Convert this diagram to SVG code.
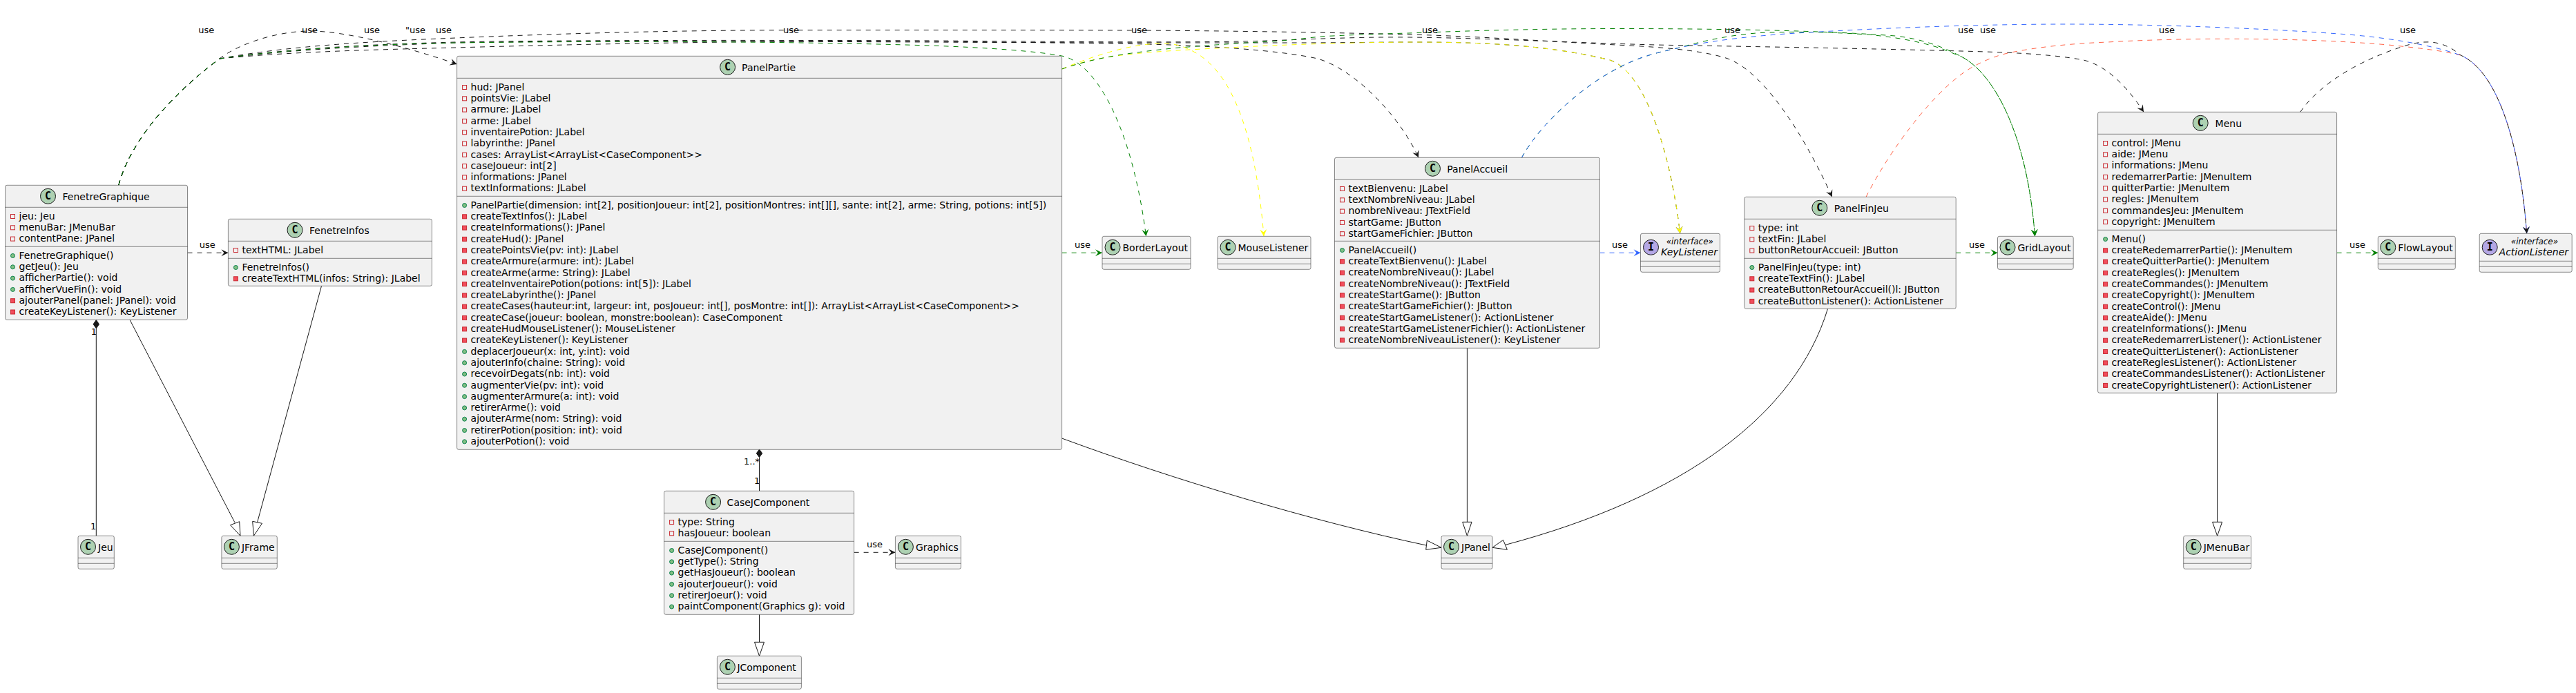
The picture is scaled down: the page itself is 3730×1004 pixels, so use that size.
<svg xmlns="http://www.w3.org/2000/svg" width="3730" height="1004" viewBox="0 0 3730 1004">
<style>
text{font-family:"DejaVu Sans",sans-serif;font-size:14px;fill:#000}
.box{fill:#F1F1F1;stroke:#181818;stroke-width:.5}
.div{fill:none;stroke:#181818;stroke-width:.5}
.cc{fill:#ADD1B2;stroke:#181818;stroke-width:1}
.ci{fill:#B4A7E5;stroke:#181818;stroke-width:1}
.gl{font-family:"DejaVu Sans Mono","DejaVu Sans",monospace;font-weight:bold;font-size:15px;text-anchor:middle}
.lb{font-size:13px}
.st{font-size:12px;font-style:italic;text-anchor:middle}
.it{font-style:italic}
.u{fill:none;stroke-width:1;stroke-dasharray:7,7}
.k{stroke:#181818}.g{stroke:#008000}.y{stroke:#FFFF00}.bl{stroke:#3366FF}.s{stroke:#FF6347}
.sl{fill:none;stroke:#181818;stroke-width:1}
.tri{fill:#fff;stroke:#181818;stroke-width:1}
.dia{fill:#181818;stroke:#181818;stroke-width:1}
</style>
<defs>
<marker id="ak" markerUnits="userSpaceOnUse" markerWidth="12" markerHeight="12" refX="11" refY="6" orient="auto"><path d="M11,6L1,1L5,6L1,11Z" fill="#181818"/></marker>
<marker id="ag" markerUnits="userSpaceOnUse" markerWidth="12" markerHeight="12" refX="11" refY="6" orient="auto"><path d="M11,6L1,1L5,6L1,11Z" fill="#008000"/></marker>
<marker id="ay" markerUnits="userSpaceOnUse" markerWidth="12" markerHeight="12" refX="11" refY="6" orient="auto"><path d="M11,6L1,1L5,6L1,11Z" fill="#FFFF00"/></marker>
<marker id="ab" markerUnits="userSpaceOnUse" markerWidth="12" markerHeight="12" refX="11" refY="6" orient="auto"><path d="M11,6L1,1L5,6L1,11Z" fill="#3366FF"/></marker>
<g id="pa"><rect x="-3" y="-3" width="6" height="6" fill="none" stroke="#C82930"/></g>
<g id="pm"><rect x="-3" y="-3" width="6" height="6" fill="#F24D5C" stroke="#C82930"/></g>
<g id="pu"><circle r="3" fill="#84BE84" stroke="#038048"/></g>
</defs>
<rect width="3730" height="1004" fill="#fff"/>

<g id="connectors">
<path class="u k" marker-end="url(#ak)" d="M171.7,268.3C186,215 232,150 317.8,85C345,64 400,45 450,45C500,45 590,68 661.6,93"/>
<path class="u k" marker-end="url(#ak)" d="M171.7,268.3C186,215 232,150 317.8,85C420,66 540,60 660,55C800,49 970,44 1134,43.7C1300,43.5 1480,43.5 1638,44C1780,44.5 1920,47 2040,50C2150,53 2240,60 2340,65C2400,68 2460,72 2499,84C2550,100 2610,190 2652.8,285.3"/>
<path class="u k" marker-end="url(#ak)" d="M171.7,268.3C186,215 232,150 317.8,85C420,70 540,64 660,61C800,58 1100,58 1350,59C1500,60 1680,62 1796,60C1860,59 1950,53 2042,54C2150,55 2280,62 2397,65C2500,67 2650,69 2840,74C2900,75.5 2970,78 3017,87C3050,95 3080,125 3104,162.3"/>
<path class="u k" marker-end="url(#ak)" d="M171.7,268.3C186,215 232,150 317.8,85C420,72 540,66 660,62C800,59 1100,60 1350,61C1500,62 1750,62 1860,62C1950,62 2000,61 2040,61C2120,61 2230,62 2331,87C2385,105 2420,230 2432.7,338.3"/>
<path class="u k" marker-end="url(#ak)" d="M171.7,268.3C186,215 232,150 317.8,85C420,75 540,72 660,69C800,65 1100,58 1350,60C1450,61 1560,62 1662,64C1740,66 1850,72 1908,85C1960,100 2025,165 2054,228.3"/>
<path class="u g" marker-end="url(#ag)" d="M171.7,268.3C186,215 232,150 317.8,85C420,71 540,64 660,62C900,59 1150,60 1346,66C1430,69 1500,74 1537.5,81C1590,92 1640,190 1659.5,342.3"/>
<path class="u y" marker-end="url(#ay)" d="M1537.5,100C1580,82 1640,62 1685,63C1700,63 1710,66 1720.5,71C1770,92 1815,160 1830,342.3"/>
<path class="u y" marker-end="url(#ay)" d="M1537.5,100C1590,80 1650,76 1740,71C1800,68 1900,62 2040,61C2120,61 2230,62 2331,87C2385,105 2420,230 2432.7,338.3"/>
<path class="u g" marker-end="url(#ag)" d="M1537.5,100C1590,82 1640,76 1707,69C1760,65 1800,62 1841,60C1880,58 1900,53 1930,52C1970,50 2000,49 2040,48C2140,44 2240,41.5 2346,41.5C2480,41.5 2640,44 2744,52C2780,56 2810,66 2840,82C2885,105 2935,190 2946.5,342.3"/>
<path class="u g" marker-end="url(#ag)" d="M2203.4,228.3C2230,180 2290,125 2346,97C2375,82 2400,76 2428,70C2470,58 2510,50 2550,47.5C2600,45 2660,47 2703,50C2740,53 2780,60 2810,70C2820,74 2830,78 2840,82C2885,105 2935,190 2946.5,342.3"/>
<path class="u s" d="M2702,285.3C2740,210 2810,120 2860,95C2875,87 2890,81 2907,77C2950,68 3000,63 3052,61C3120,57 3190,56 3255,56.5C3330,57 3400,60 3458,65C3495,69 3530,72 3563,80C3620,105 3650,220 3658.7,338.3"/>
<path class="u bl" marker-end="url(#ab)" d="M2203.4,228.3C2230,180 2290,125 2346,97C2375,82 2400,76 2428,70C2480,58 2540,52 2601,48C2700,42 2850,35 2994,35C3120,35 3280,41 3400,50C3460,55 3520,65 3563,80C3620,105 3650,220 3658.7,338.3"/>
<path class="u k" marker-end="url(#ak)" d="M3330.7,162.3C3360,120 3420,85 3487,65C3505,60 3525,58 3545,68C3552,71 3558,76 3563,80C3620,105 3650,220 3658.7,338.3"/>
<path class="u k" marker-end="url(#ak)" d="M271.5,366.3H330.4"/>
<path class="u g" marker-end="url(#ag)" d="M1537.6,366.3H1596"/>
<path class="u bl" marker-end="url(#ab)" d="M2316.5,366.3H2375.5"/>
<path class="u g" marker-end="url(#ag)" d="M2832.2,366.3H2892.5"/>
<path class="u g" marker-end="url(#ag)" d="M3383.6,366.3H3443.3"/>
<path class="u k" marker-end="url(#ak)" d="M1236.6,800.3H1296.4"/>
<path class="sl" d="M139.3,476V776.3"/>
<polygon class="dia" points="139.3,463.6 143.5,469.7 139.3,475.8 135.1,469.7"/>
<path class="sl" d="M1099.5,662.6V711.3"/>
<polygon class="dia" points="1099.5,651 1103.7,656.8 1099.5,662.6 1095.3,656.8"/>
<path class="sl" d="M188,463.3L340,757"/>
<polygon class="tri" points="348,776.3 333.5,760.7 346.7,755.7"/>
<path class="sl" d="M465.5,414.3L372.5,757"/>
<polygon class="tri" points="367.4,776.3 365.7,755.3 379.5,758.3"/>
<path class="sl" d="M1099.5,890.3V930.3"/>
<polygon class="tri" points="1099.5,950.3 1092.5,930.3 1106.5,930.3"/>
<path class="sl" d="M1537.6,635C1700,695 1900,755 2065,790"/>
<polygon class="tri" points="2087,793.3 2066.3,783 2064.7,796.3"/>
<path class="sl" d="M2124.4,504.3V756.3"/>
<polygon class="tri" points="2124.4,776.3 2117.7,756.3 2131,756.3"/>
<path class="sl" d="M2646.5,447.4C2600,600 2440,720 2179.5,789.5"/>
<polygon class="tri" points="2160.9,793.3 2176.6,782.3 2182.4,796.3"/>
<path class="sl" d="M3210.6,569.3V756.3"/>
<polygon class="tri" points="3210.6,776.3 3203.6,756.3 3217.6,756.3"/>
<g class="lb">
<text class="lb" x="287.3" y="48">use</text>
<text class="lb" x="437" y="48">use</text>
<text class="lb" x="527" y="48">use</text>
<text class="lb" x="587" y="48">"use</text>
<text class="lb" x="631" y="48">use</text>
<text class="lb" x="1134" y="48">use</text>
<text class="lb" x="1638" y="48">use</text>
<text class="lb" x="2059" y="48">use</text>
<text class="lb" x="2497" y="48">use</text>
<text class="lb" x="2835" y="48">use</text>
<text class="lb" x="2867" y="48">use</text>
<text class="lb" x="3126" y="48">use</text>
<text class="lb" x="3475" y="48">use</text>
<text class="lb" x="288.7" y="358.5">use</text>
<text class="lb" x="1556" y="358.5">use</text>
<text class="lb" x="2334" y="358.5">use</text>
<text class="lb" x="2851" y="358.5">use</text>
<text class="lb" x="3402" y="358.5">use</text>
<text class="lb" x="1255" y="792.5">use</text>
<text class="lb" x="131.7" y="485">1</text>
<text class="lb" x="131" y="766.7">1</text>
<text class="lb" x="1077" y="672.5">1..*</text>
<text class="lb" x="1092" y="701">1</text>
</g>
</g>

<g id="FenetreGraphique" transform="translate(7.5,268.3)">
<rect class="box" width="264" height="195" rx="2.5"/><path class="div" d="M0,32H264M0,89H264"/>
<circle class="cc" cx="62" cy="16" r="11"/><text class="gl" x="62" y="21">C</text><text x="83" y="21.3">FenetreGraphique</text>
<g transform="translate(0,32)">
<use href="#pa" x="11" y="13.2"/><text x="20" y="17.5">jeu: Jeu</text>
<use href="#pa" x="11" y="29.5"/><text x="20" y="33.8">menuBar: JMenuBar</text>
<use href="#pa" x="11" y="45.8"/><text x="20" y="50.1">contentPane: JPanel</text>
</g>
<g transform="translate(0,89)">
<use href="#pu" x="11" y="13.2"/><text x="20" y="17.5">FenetreGraphique()</text>
<use href="#pu" x="11" y="29.5"/><text x="20" y="33.8">getJeu(): Jeu</text>
<use href="#pu" x="11" y="45.8"/><text x="20" y="50.1">afficherPartie(): void</text>
<use href="#pu" x="11" y="62.1"/><text x="20" y="66.4">afficherVueFin(): void</text>
<use href="#pm" x="11" y="78.4"/><text x="20" y="82.7">ajouterPanel(panel: JPanel): void</text>
<use href="#pm" x="11" y="94.7"/><text x="20" y="99">createKeyListener(): KeyListener</text>
</g>
</g>

<g id="FenetreInfos" transform="translate(330.4,317.3)">
<rect class="box" width="295" height="97" rx="2.5"/><path class="div" d="M0,32H295M0,57H295"/>
<circle class="cc" cx="96.6" cy="16" r="11"/><text class="gl" x="96.6" y="21">C</text><text x="117.6" y="21.3">FenetreInfos</text>
<g transform="translate(0,32)">
<use href="#pa" x="11" y="13.2"/><text x="20" y="17.5">textHTML: JLabel</text>
</g>
<g transform="translate(0,57)">
<use href="#pu" x="11" y="13.2"/><text x="20" y="17.5">FenetreInfos()</text>
<use href="#pm" x="11" y="29.5"/><text x="20" y="33.8">createTextHTML(infos: String): JLabel</text>
</g>
</g>

<g id="Jeu" transform="translate(113,776.3)">
<rect class="box" width="52.3" height="48" rx="2.5"/><path class="div" d="M0,32H52.3M0,40H52.3"/>
<circle class="cc" cx="14.5" cy="16" r="11"/><text class="gl" x="14.5" y="21">C</text><text x="29" y="21.3">Jeu</text>
</g>

<g id="JFrame" transform="translate(320.9,776.3)">
<rect class="box" width="80.4" height="48" rx="2.5"/><path class="div" d="M0,32H80.4M0,40H80.4"/>
<circle class="cc" cx="14.5" cy="16" r="11"/><text class="gl" x="14.5" y="21">C</text><text x="29" y="21.3">JFrame</text>
</g>

<g id="PanelPartie" transform="translate(661.6,81.3)">
<rect class="box" width="876" height="570" rx="2.5"/><path class="div" d="M0,32H876M0,203H876"/>
<circle class="cc" cx="392" cy="16" r="11"/><text class="gl" x="392" y="21">C</text><text x="412.5" y="21.3">PanelPartie</text>
<g transform="translate(0,32)">
<use href="#pa" x="11" y="13.2"/><text x="20" y="17.5">hud: JPanel</text>
<use href="#pa" x="11" y="29.5"/><text x="20" y="33.8">pointsVie: JLabel</text>
<use href="#pa" x="11" y="45.8"/><text x="20" y="50.1">armure: JLabel</text>
<use href="#pa" x="11" y="62.1"/><text x="20" y="66.4">arme: JLabel</text>
<use href="#pa" x="11" y="78.4"/><text x="20" y="82.7">inventairePotion: JLabel</text>
<use href="#pa" x="11" y="94.7"/><text x="20" y="99">labyrinthe: JPanel</text>
<use href="#pa" x="11" y="111"/><text x="20" y="115.3">cases: ArrayList&lt;ArrayList&lt;CaseComponent&gt;&gt;</text>
<use href="#pa" x="11" y="127.3"/><text x="20" y="131.6">caseJoueur: int[2]</text>
<use href="#pa" x="11" y="143.6"/><text x="20" y="147.9">informations: JPanel</text>
<use href="#pa" x="11" y="159.9"/><text x="20" y="164.2">textInformations: JLabel</text>
</g>
<g transform="translate(0,203)">
<use href="#pu" x="11" y="13.2"/><text x="20" y="17.5">PanelPartie(dimension: int[2], positionJoueur: int[2], positionMontres: int[][], sante: int[2], arme: String, potions: int[5])</text>
<use href="#pm" x="11" y="29.5"/><text x="20" y="33.8">createTextInfos(): JLabel</text>
<use href="#pm" x="11" y="45.8"/><text x="20" y="50.1">createInformations(): JPanel</text>
<use href="#pm" x="11" y="62.1"/><text x="20" y="66.4">createHud(): JPanel</text>
<use href="#pm" x="11" y="78.4"/><text x="20" y="82.7">createPointsVie(pv: int): JLabel</text>
<use href="#pm" x="11" y="94.7"/><text x="20" y="99">createArmure(armure: int): JLabel</text>
<use href="#pm" x="11" y="111"/><text x="20" y="115.3">createArme(arme: String): JLabel</text>
<use href="#pm" x="11" y="127.3"/><text x="20" y="131.6">createInventairePotion(potions: int[5]): JLabel</text>
<use href="#pm" x="11" y="143.6"/><text x="20" y="147.9">createLabyrinthe(): JPanel</text>
<use href="#pm" x="11" y="159.9"/><text x="20" y="164.2">createCases(hauteur:int, largeur: int, posJoueur: int[], posMontre: int[]): ArrayList&lt;ArrayList&lt;CaseComponent&gt;&gt;</text>
<use href="#pm" x="11" y="176.2"/><text x="20" y="180.5">createCase(joueur: boolean, monstre:boolean): CaseComponent</text>
<use href="#pm" x="11" y="192.5"/><text x="20" y="196.8">createHudMouseListener(): MouseListener</text>
<use href="#pm" x="11" y="208.8"/><text x="20" y="213.1">createKeyListener(): KeyListener</text>
<use href="#pu" x="11" y="225.1"/><text x="20" y="229.4">deplacerJoueur(x: int, y:int): void</text>
<use href="#pu" x="11" y="241.4"/><text x="20" y="245.7">ajouterInfo(chaine: String): void</text>
<use href="#pu" x="11" y="257.7"/><text x="20" y="262">recevoirDegats(nb: int): void</text>
<use href="#pu" x="11" y="274"/><text x="20" y="278.3">augmenterVie(pv: int): void</text>
<use href="#pu" x="11" y="290.3"/><text x="20" y="294.6">augmenterArmure(a: int): void</text>
<use href="#pu" x="11" y="306.6"/><text x="20" y="310.9">retirerArme(): void</text>
<use href="#pu" x="11" y="322.9"/><text x="20" y="327.2">ajouterArme(nom: String): void</text>
<use href="#pu" x="11" y="339.2"/><text x="20" y="343.5">retirerPotion(position: int): void</text>
<use href="#pu" x="11" y="355.5"/><text x="20" y="359.8">ajouterPotion(): void</text>
</g>
</g>

<g id="CaseJComponent" transform="translate(961.6,711.3)">
<rect class="box" width="275" height="179" rx="2.5"/><path class="div" d="M0,32H275M0,73H275"/>
<circle class="cc" cx="71" cy="16" r="11"/><text class="gl" x="71" y="21">C</text><text x="91" y="21.3">CaseJComponent</text>
<g transform="translate(0,32)">
<use href="#pa" x="11" y="13.2"/><text x="20" y="17.5">type: String</text>
<use href="#pa" x="11" y="29.5"/><text x="20" y="33.8">hasJoueur: boolean</text>
</g>
<g transform="translate(0,73)">
<use href="#pu" x="11" y="13.2"/><text x="20" y="17.5">CaseJComponent()</text>
<use href="#pu" x="11" y="29.5"/><text x="20" y="33.8">getType(): String</text>
<use href="#pu" x="11" y="45.8"/><text x="20" y="50.1">getHasJoueur(): boolean</text>
<use href="#pu" x="11" y="62.1"/><text x="20" y="66.4">ajouterJoueur(): void</text>
<use href="#pu" x="11" y="78.4"/><text x="20" y="82.7">retirerJoeur(): void</text>
<use href="#pu" x="11" y="94.7"/><text x="20" y="99">paintComponent(Graphics g): void</text>
</g>
</g>

<g id="Graphics" transform="translate(1296.4,776.3)">
<rect class="box" width="95" height="48" rx="2.5"/><path class="div" d="M0,32H95M0,40H95"/>
<circle class="cc" cx="15" cy="16" r="11"/><text class="gl" x="15" y="21">C</text><text x="29.5" y="21.3">Graphics</text>
</g>

<g id="JComponent" transform="translate(1038.4,950.3)">
<rect class="box" width="122" height="48" rx="2.5"/><path class="div" d="M0,32H122M0,40H122"/>
<circle class="cc" cx="15" cy="16" r="11"/><text class="gl" x="15" y="21">C</text><text x="29" y="21.3">JComponent</text>
</g>

<g id="BorderLayout" transform="translate(1596,342.3)">
<rect class="box" width="128" height="48" rx="2.5"/><path class="div" d="M0,32H128M0,40H128"/>
<circle class="cc" cx="15" cy="16" r="11"/><text class="gl" x="15" y="21">C</text><text x="29.5" y="21.3">BorderLayout</text>
</g>

<g id="MouseListener" transform="translate(1763,342.3)">
<rect class="box" width="135" height="48" rx="2.5"/><path class="div" d="M0,32H135M0,40H135"/>
<circle class="cc" cx="15" cy="16" r="11"/><text class="gl" x="15" y="21">C</text><text x="29.5" y="21.3">MouseListener</text>
</g>

<g id="PanelAccueil" transform="translate(1932.5,228.3)">
<rect class="box" width="384" height="276" rx="2.5"/><path class="div" d="M0,32H384M0,121H384"/>
<circle class="cc" cx="142" cy="16" r="11"/><text class="gl" x="142" y="21">C</text><text x="162.8" y="21.3">PanelAccueil</text>
<g transform="translate(0,32)">
<use href="#pa" x="11" y="13.2"/><text x="20" y="17.5">textBienvenu: JLabel</text>
<use href="#pa" x="11" y="29.5"/><text x="20" y="33.8">textNombreNiveau: JLabel</text>
<use href="#pa" x="11" y="45.8"/><text x="20" y="50.1">nombreNiveau: JTextField</text>
<use href="#pa" x="11" y="62.1"/><text x="20" y="66.4">startGame: JButton</text>
<use href="#pa" x="11" y="78.4"/><text x="20" y="82.7">startGameFichier: JButton</text>
</g>
<g transform="translate(0,121)">
<use href="#pu" x="11" y="13.2"/><text x="20" y="17.5">PanelAccueil()</text>
<use href="#pm" x="11" y="29.5"/><text x="20" y="33.8">createTextBienvenu(): JLabel</text>
<use href="#pm" x="11" y="45.8"/><text x="20" y="50.1">createNombreNiveau(): JLabel</text>
<use href="#pm" x="11" y="62.1"/><text x="20" y="66.4">createNombreNiveau(): JTextField</text>
<use href="#pm" x="11" y="78.4"/><text x="20" y="82.7">createStartGame(): JButton</text>
<use href="#pm" x="11" y="94.7"/><text x="20" y="99">createStartGameFichier(): JButton</text>
<use href="#pm" x="11" y="111"/><text x="20" y="115.3">createStartGameListener(): ActionListener</text>
<use href="#pm" x="11" y="127.3"/><text x="20" y="131.6">createStartGameListenerFichier(): ActionListener</text>
<use href="#pm" x="11" y="143.6"/><text x="20" y="147.9">createNombreNiveauListener(): KeyListener</text>
</g>
</g>

<g id="KeyListener" transform="translate(2375.5,338.3)">
<rect class="box" width="115" height="56" rx="2.5"/><path class="div" d="M0,40H115M0,48H115"/>
<circle class="ci" cx="15" cy="20" r="11"/><text class="gl" x="15" y="25">I</text>
<text class="st" x="71.3" y="15.5">«interface»</text><text class="it" x="29.5" y="31.5">KeyListener</text>
</g>

<g id="PanelFinJeu" transform="translate(2525.8,285.3)">
<rect class="box" width="306.4" height="162" rx="2.5"/><path class="div" d="M0,32H306.4M0,89H306.4"/>
<circle class="cc" cx="109" cy="16" r="11"/><text class="gl" x="109" y="21">C</text><text x="130" y="21.3">PanelFinJeu</text>
<g transform="translate(0,32)">
<use href="#pa" x="11" y="13.2"/><text x="20" y="17.5">type: int</text>
<use href="#pa" x="11" y="29.5"/><text x="20" y="33.8">textFin: JLabel</text>
<use href="#pa" x="11" y="45.8"/><text x="20" y="50.1">buttonRetourAccueil: JButton</text>
</g>
<g transform="translate(0,89)">
<use href="#pu" x="11" y="13.2"/><text x="20" y="17.5">PanelFinJeu(type: int)</text>
<use href="#pm" x="11" y="29.5"/><text x="20" y="33.8">createTextFin(): JLabel</text>
<use href="#pm" x="11" y="45.8"/><text x="20" y="50.1">createButtonRetourAccueil()l: JButton</text>
<use href="#pm" x="11" y="62.1"/><text x="20" y="66.4">createButtonListener(): ActionListener</text>
</g>
</g>

<g id="GridLayout" transform="translate(2892.5,342.3)">
<rect class="box" width="109.7" height="48" rx="2.5"/><path class="div" d="M0,32H109.7M0,40H109.7"/>
<circle class="cc" cx="14.5" cy="16" r="11"/><text class="gl" x="14.5" y="21">C</text><text x="29" y="21.3">GridLayout</text>
</g>

<g id="Menu" transform="translate(3037.6,162.3)">
<rect class="box" width="346" height="407" rx="2.5"/><path class="div" d="M0,32H346M0,171H346"/>
<circle class="cc" cx="148.6" cy="16" r="11"/><text class="gl" x="148.6" y="21">C</text><text x="170" y="21.3">Menu</text>
<g transform="translate(0,32)">
<use href="#pa" x="11" y="13.2"/><text x="20" y="17.5">control: JMenu</text>
<use href="#pa" x="11" y="29.5"/><text x="20" y="33.8">aide: JMenu</text>
<use href="#pa" x="11" y="45.8"/><text x="20" y="50.1">informations: JMenu</text>
<use href="#pa" x="11" y="62.1"/><text x="20" y="66.4">redemarrerPartie: JMenuItem</text>
<use href="#pa" x="11" y="78.4"/><text x="20" y="82.7">quitterPartie: JMenuItem</text>
<use href="#pa" x="11" y="94.7"/><text x="20" y="99">regles: JMenuItem</text>
<use href="#pa" x="11" y="111"/><text x="20" y="115.3">commandesJeu: JMenuItem</text>
<use href="#pa" x="11" y="127.3"/><text x="20" y="131.6">copyright: JMenuItem</text>
</g>
<g transform="translate(0,171)">
<use href="#pu" x="11" y="13.2"/><text x="20" y="17.5">Menu()</text>
<use href="#pm" x="11" y="29.5"/><text x="20" y="33.8">createRedemarrerPartie(): JMenuItem</text>
<use href="#pm" x="11" y="45.8"/><text x="20" y="50.1">createQuitterPartie(): JMenuItem</text>
<use href="#pm" x="11" y="62.1"/><text x="20" y="66.4">createRegles(): JMenuItem</text>
<use href="#pm" x="11" y="78.4"/><text x="20" y="82.7">createCommandes(): JMenuItem</text>
<use href="#pm" x="11" y="94.7"/><text x="20" y="99">createCopyright(): JMenuItem</text>
<use href="#pm" x="11" y="111"/><text x="20" y="115.3">createControl(): JMenu</text>
<use href="#pm" x="11" y="127.3"/><text x="20" y="131.6">createAide(): JMenu</text>
<use href="#pm" x="11" y="143.6"/><text x="20" y="147.9">createInformations(): JMenu</text>
<use href="#pm" x="11" y="159.9"/><text x="20" y="164.2">createRedemarrerListener(): ActionListener</text>
<use href="#pm" x="11" y="176.2"/><text x="20" y="180.5">createQuitterListener(): ActionListener</text>
<use href="#pm" x="11" y="192.5"/><text x="20" y="196.8">createReglesListener(): ActionListener</text>
<use href="#pm" x="11" y="208.8"/><text x="20" y="213.1">createCommandesListener(): ActionListener</text>
<use href="#pm" x="11" y="225.1"/><text x="20" y="229.4">createCopyrightListener(): ActionListener</text>
</g>
</g>

<g id="FlowLayout" transform="translate(3443.3,342.3)">
<rect class="box" width="112" height="48" rx="2.5"/><path class="div" d="M0,32H112M0,40H112"/>
<circle class="cc" cx="14.5" cy="16" r="11"/><text class="gl" x="14.5" y="21">C</text><text x="29" y="21.3">FlowLayout</text>
</g>

<g id="ActionListener" transform="translate(3590.2,338.3)">
<rect class="box" width="134" height="56" rx="2.5"/><path class="div" d="M0,40H134M0,48H134"/>
<circle class="ci" cx="15" cy="20" r="11"/><text class="gl" x="15" y="25">I</text>
<text class="st" x="79.8" y="15.5">«interface»</text><text class="it" x="28.4" y="31.5">ActionListener</text>
</g>

<g id="JPanel" transform="translate(2087,776.3)">
<rect class="box" width="74" height="48" rx="2.5"/><path class="div" d="M0,32H74M0,40H74"/>
<circle class="cc" cx="14.5" cy="16" r="11"/><text class="gl" x="14.5" y="21">C</text><text x="29" y="21.3">JPanel</text>
</g>

<g id="JMenuBar" transform="translate(3161.7,776.3)">
<rect class="box" width="97.8" height="48" rx="2.5"/><path class="div" d="M0,32H97.8M0,40H97.8"/>
<circle class="cc" cx="14.5" cy="16" r="11"/><text class="gl" x="14.5" y="21">C</text><text x="29" y="21.3">JMenuBar</text>
</g>
</svg>
